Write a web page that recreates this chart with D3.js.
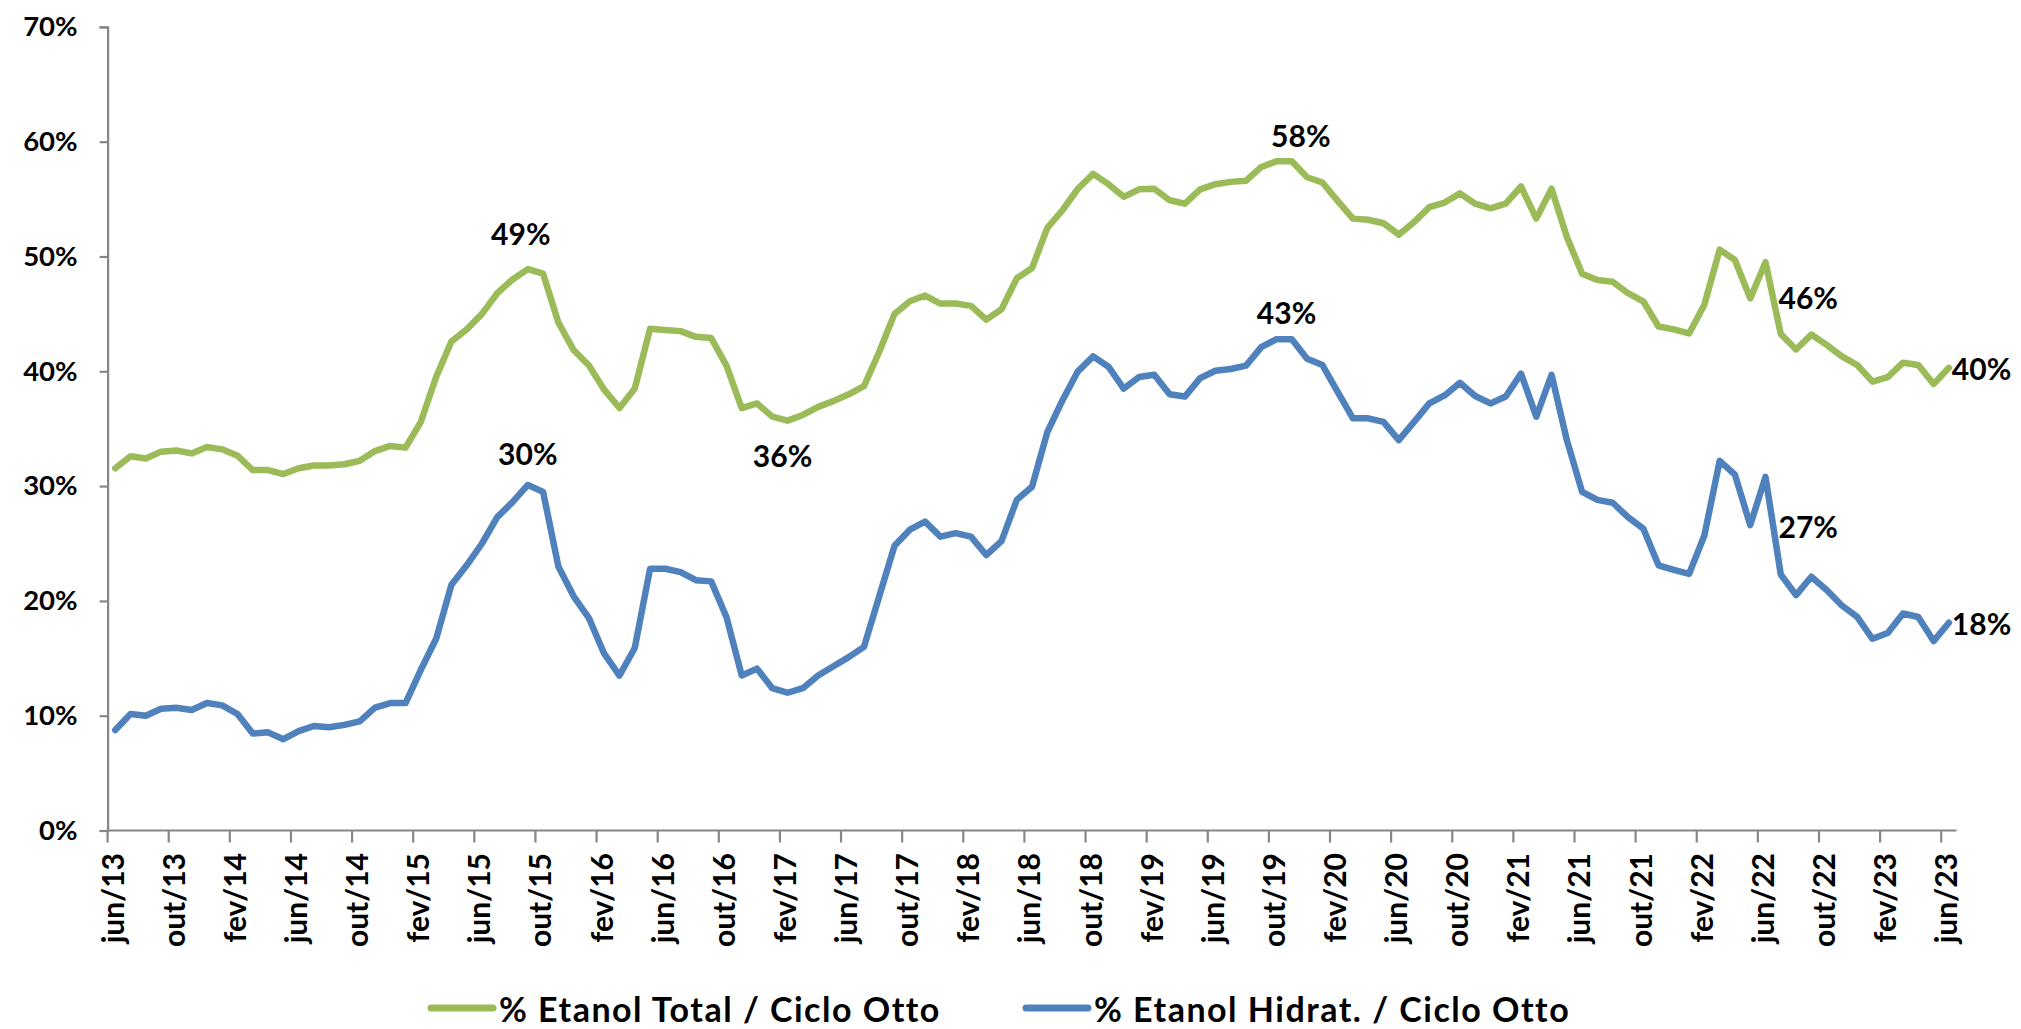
<!DOCTYPE html>
<html>
<head>
<meta charset="utf-8">
<script src="https://cdn.jsdelivr.net/npm/d3@7/dist/d3.min.js"></script>
<style>
  html, body { margin: 0; padding: 0; background: #ffffff; }
  svg { display: block; }
  text { font-family: Lato, "Open Sans", sans-serif; font-weight: 700; fill: #000; }
</style>
</head>
<body>
<svg id="chart" width="2021" height="1029"></svg>
<script>
// ---------- data ----------
const categories = [
  "jun/13","jul/13","ago/13","set/13","out/13","nov/13","dez/13",
  "jan/14","fev/14","mar/14","abr/14","mai/14","jun/14","jul/14","ago/14","set/14","out/14","nov/14","dez/14",
  "jan/15","fev/15","mar/15","abr/15","mai/15","jun/15","jul/15","ago/15","set/15","out/15","nov/15","dez/15",
  "jan/16","fev/16","mar/16","abr/16","mai/16","jun/16","jul/16","ago/16","set/16","out/16","nov/16","dez/16",
  "jan/17","fev/17","mar/17","abr/17","mai/17","jun/17","jul/17","ago/17","set/17","out/17","nov/17","dez/17",
  "jan/18","fev/18","mar/18","abr/18","mai/18","jun/18","jul/18","ago/18","set/18","out/18","nov/18","dez/18",
  "jan/19","fev/19","mar/19","abr/19","mai/19","jun/19","jul/19","ago/19","set/19","out/19","nov/19","dez/19",
  "jan/20","fev/20","mar/20","abr/20","mai/20","jun/20","jul/20","ago/20","set/20","out/20","nov/20","dez/20",
  "jan/21","fev/21","mar/21","abr/21","mai/21","jun/21","jul/21","ago/21","set/21","out/21","nov/21","dez/21",
  "jan/22","fev/22","mar/22","abr/22","mai/22","jun/22","jul/22","ago/22","set/22","out/22","nov/22","dez/22",
  "jan/23","fev/23","mar/23","abr/23","mai/23","jun/23"
];

const tickLabels = [
  "jun/13","out/13","fev/14","jun/14","out/14","fev/15","jun/15","out/15","fev/16","jun/16","out/16",
  "fev/17","jun/17","out/17","fev/18","jun/18","out/18","fev/19","jun/19","out/19","fev/20","jun/20",
  "out/20","fev/21","jun/21","out/21","fev/22","jun/22","out/22","fev/23","jun/23"
];

const yTicks = [0, 10, 20, 30, 40, 50, 60, 70];

const seriesNames = ["% Etanol Total / Ciclo Otto", "% Etanol Hidrat. / Ciclo Otto"];

const etanolTotal = [
  31.55, 32.6, 32.4, 33.0, 33.1, 32.85, 33.4, 33.2, 32.65, 31.4,
  31.4, 31.05, 31.55, 31.8, 31.8, 31.9, 32.2, 33.05, 33.5, 33.35,
  35.6, 39.5, 42.6, 43.65, 45.0, 46.8, 48.0, 48.9, 48.5, 44.25,
  41.85, 40.5, 38.4, 36.8, 38.5, 43.7, 43.6, 43.5, 43.0, 42.9,
  40.5, 36.8, 37.2, 36.05, 35.7, 36.2, 36.9, 37.4, 38.0, 38.7,
  41.7, 45.0, 46.1, 46.6, 45.9, 45.9, 45.7, 44.5, 45.4, 48.1,
  49.0, 52.5, 54.05, 55.9, 57.2, 56.3, 55.2, 55.85, 55.9, 54.9,
  54.6, 55.85, 56.3, 56.5, 56.6, 57.8, 58.3, 58.3, 56.9, 56.45,
  54.85, 53.3, 53.2, 52.9, 51.9, 53.0, 54.3, 54.7, 55.5, 54.6,
  54.2, 54.6, 56.1, 53.3, 55.9, 51.7, 48.5, 47.95, 47.8, 46.8,
  46.1, 43.9, 43.65, 43.3, 45.8, 50.6, 49.7, 46.35, 49.5, 43.25,
  41.9, 43.2, 42.3, 41.3, 40.55, 39.1, 39.5, 40.75, 40.55, 38.9,
  40.3
];

const etanolHidratado = [
  8.75, 10.15, 10.0, 10.6, 10.7, 10.5, 11.1, 10.9, 10.15, 8.45,
  8.55, 7.95, 8.65, 9.1, 9.0, 9.2, 9.5, 10.7, 11.1, 11.1,
  14.0, 16.7, 21.4, 23.1, 25.0, 27.3, 28.6, 30.1, 29.5, 23.0,
  20.4, 18.5, 15.4, 13.5, 15.9, 22.8, 22.8, 22.5, 21.8, 21.7,
  18.6, 13.5, 14.1, 12.4, 12.0, 12.4, 13.5, 14.3, 15.1, 16.0,
  20.4, 24.8, 26.2, 26.9, 25.6, 25.9, 25.6, 24.0, 25.2, 28.8,
  29.95, 34.7, 37.5, 40.0, 41.3, 40.4, 38.5, 39.5, 39.7, 38.0,
  37.8, 39.4, 40.05, 40.2, 40.5, 42.1, 42.8, 42.8, 41.1, 40.55,
  38.2, 35.9, 35.9, 35.6, 34.0, 35.6, 37.2, 37.9, 39.0, 37.85,
  37.2, 37.8, 39.8, 36.05, 39.7, 34.0, 29.5, 28.8, 28.55, 27.3,
  26.3, 23.1, 22.7, 22.35, 25.7, 32.2, 31.0, 26.6, 30.8, 22.3,
  20.5, 22.1, 20.95, 19.6, 18.6, 16.7, 17.2, 18.9, 18.6, 16.5,
  18.1
];

// annotations: series index, category, text
const annotSeries = [0, 1, 0, 0, 1, 0, 1, 0, 1];
const annotCategory = ["set/15","set/15","fev/17","nov/19","out/19","jun/22","jun/22","jun/23","jun/23"];
const annotText = ["49%","30%","36%","58%","43%","46%","27%","40%","18%"];

// ---------- layout ----------
const W = 2021, H = 1029;
const plot = { left: 107.6, right: 1956.5, top: 26.9, bottom: 830.5 };
const colors = ["#9BBB59", "#4F81BD"];
const axisColor = "#868686";
// per-annotation offsets (px) relative to its data point: [dx, dy, anchor]
const annotOffset = [
  [-7, -36, "middle"], [0, -32, "middle"], [-5, 34, "middle"],
  [9, -26, "middle"], [10, -27, "middle"],
  [13, 35, "start"], [13, 49, "start"],
  [3, 0, "start"], [3, 0, "start"]
];

const svg = d3.select("#chart");
svg.append("rect").attr("width", W).attr("height", H).attr("fill", "#fff");

const x = d3.scalePoint().domain(categories).range([plot.left, plot.right]).padding(0.5);
const step = x.step();
const y = d3.scaleLinear().domain([0, 70]).range([plot.bottom, plot.top]);

// y axis
const yAxis = d3.axisLeft(y).tickValues(yTicks).tickFormat(d => d + "%").tickSize(8).tickPadding(22);
const gy = svg.append("g").attr("transform", `translate(${plot.left},0)`).call(yAxis);
gy.select(".domain").attr("stroke", axisColor).attr("stroke-width", 2.2);
gy.selectAll(".tick line").attr("stroke", axisColor).attr("stroke-width", 2.2);
gy.selectAll(".tick text").style("font-size", "27.5px").attr("fill", "#000");

// x axis (category boundaries every 4 months)
const gx = svg.append("g");
gx.append("line")
  .attr("x1", plot.left).attr("x2", plot.right)
  .attr("y1", plot.bottom).attr("y2", plot.bottom)
  .attr("stroke", axisColor).attr("stroke-width", 2.2);
const tickCats = tickLabels.map(t => categories.indexOf(t));
const boundary = c => x(categories[c]) - step / 2;
gx.selectAll("line.tk").data(tickCats).join("line").attr("class", "tk")
  .attr("x1", c => boundary(c)).attr("x2", c => boundary(c))
  .attr("y1", plot.bottom).attr("y2", plot.bottom + 12)
  .attr("stroke", axisColor).attr("stroke-width", 2.2);
gx.selectAll("text.tl").data(tickCats).join("text").attr("class", "tl")
  .attr("transform", c => `translate(${boundary(c) + 4},853) rotate(-90)`)
  .attr("text-anchor", "end")
  .attr("dominant-baseline", "central")
  .style("font-size", "30px")
  .text(c => categories[c]);

// lines
const seriesData = [etanolTotal, etanolHidratado];
const line = d3.line().x((d, i) => x(categories[i])).y(d => y(d));
seriesData.forEach((s, k) => {
  svg.append("path").datum(s)
    .attr("d", line)
    .attr("fill", "none")
    .attr("stroke", colors[k])
    .attr("stroke-width", 6.5)
    .attr("stroke-linejoin", "round")
    .attr("stroke-linecap", "round");
});

// annotations
annotText.forEach((t, j) => {
  const ci = categories.indexOf(annotCategory[j]);
  const v = seriesData[annotSeries[j]][ci];
  const [dx, dy, anchor] = annotOffset[j];
  svg.append("text")
    .attr("x", x(categories[ci]) + dx)
    .attr("y", y(v) + dy)
    .attr("text-anchor", anchor)
    .attr("dominant-baseline", "central")
    .style("font-size", "30px")
    .text(t);
});

// legend
const legendPos = [[428, 1008], [1023, 1008]];
seriesNames.forEach((n, k) => {
  const [lx, ly] = legendPos[k];
  svg.append("line")
    .attr("x1", lx + 3).attr("x2", lx + 65)
    .attr("y1", ly).attr("y2", ly)
    .attr("stroke", colors[k]).attr("stroke-width", 7).attr("stroke-linecap", "round");
  svg.append("text")
    .attr("x", lx + 71).attr("y", ly)
    .attr("dominant-baseline", "central")
    .style("font-size", "34px")
    .style("letter-spacing", "1.5px")
    .text(n);
});
</script>
</body>
</html>
